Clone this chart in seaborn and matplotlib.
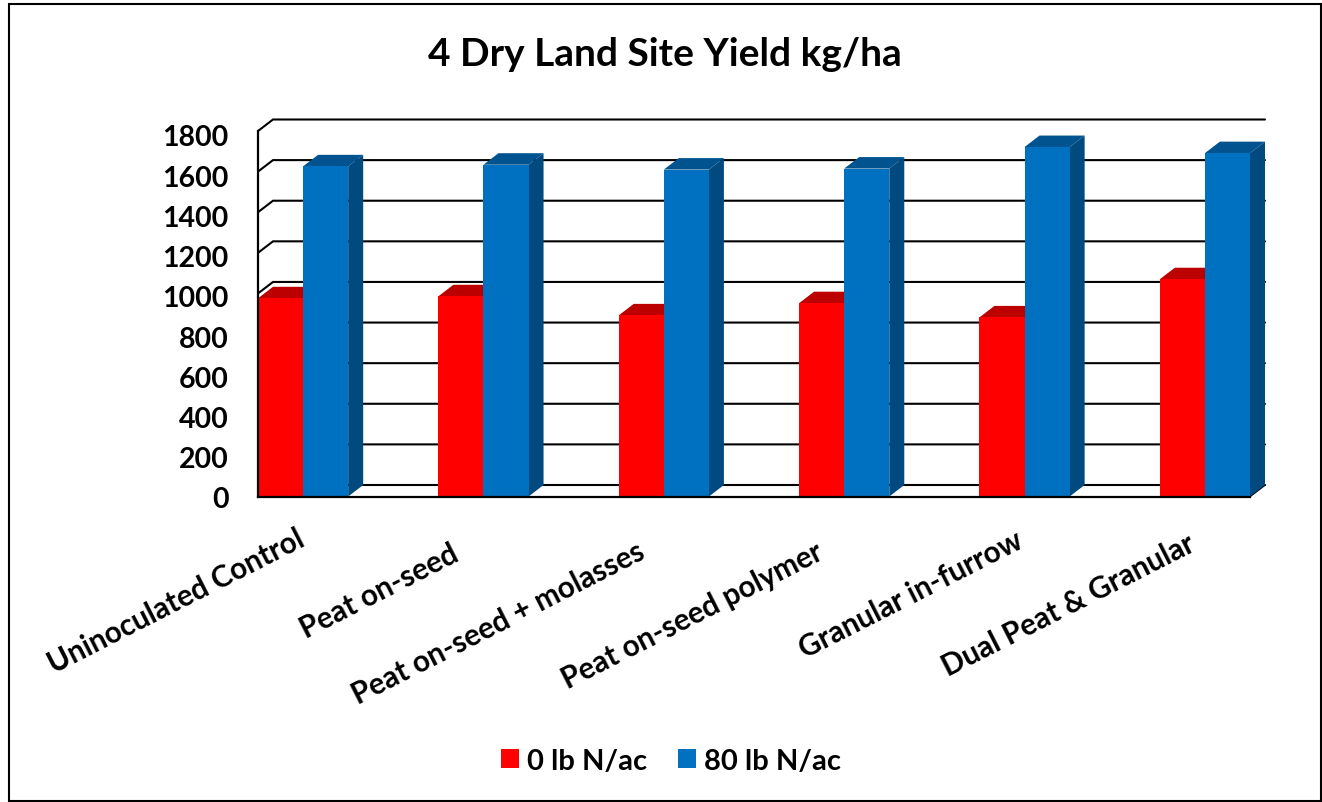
#!/usr/bin/env python3
"""4 Dry Land Site Yield chart, bars with a fake 3D depth."""

import pandas as pd
import matplotlib
matplotlib.use('Agg')
import matplotlib.pyplot as plt
import seaborn as sns
from matplotlib.patches import Patch, Polygon, Rectangle
from matplotlib.transforms import Affine2D

# Chart data
treatments = ['Uninoculated Control', 'Peat on-seed', 'Peat on-seed + molasses',
              'Peat on-seed polymer', 'Granular in-furrow', 'Dual Peat & Granular']
rates = ['0 lb N/ac', '80 lb N/ac']
yield_0n = [976, 986, 892, 952, 882, 1070]
yield_80n = [1626, 1634, 1610, 1615, 1721, 1691]
y_ticks = [0, 200, 400, 600, 800, 1000, 1200, 1400, 1600, 1800]

title = '4 Dry Land Site Yield kg/ha'

# Colours: front, top, side
front_colors = {'0 lb N/ac': '#FF0000', '80 lb N/ac': '#0070C0'}
top_colors = {'#FF0000': '#BC0000', '#0070C0': '#00538F'}
side_colors = {'#FF0000': '#A80000', '#0070C0': '#004A80'}

# Where the end of each slanted label sits relative to its tick, in pixels (right, down)
label_offsets = [(3, 47.5), (-23, 62.5), (-17, 60.5), (-19, 60.5), (0.5, 49.5), (-8, 52.5)]

W, H = 1322, 803
FONT = 'Lato'


def to_hex(color):
    return matplotlib.colors.to_hex(color).upper()


def main():
    sns.set_style('white')
    plt.rcParams['font.family'] = [FONT, 'DejaVu Sans']
    plt.rcParams['font.weight'] = 'bold'

    df = pd.DataFrame({
        'treatment': treatments * 2,
        'rate': [rates[0]] * len(treatments) + [rates[1]] * len(treatments),
        'value': yield_0n + yield_80n,
    })

    fig = plt.figure(figsize=(W / 100, H / 100), dpi=100, facecolor='white')
    left, right, top, bottom = 258, 1250, 132, 497.5
    ax = fig.add_axes([left / W, 1 - bottom / H, (right - left) / W, (bottom - top) / H])

    sns.barplot(data=df, x='treatment', y='value', hue='rate', palette=front_colors,
                width=0.5, saturation=1, legend=False, linewidth=0, ax=ax, zorder=3)

    ax.set_xlim(-0.25, 5.25)
    ax.set_ylim(0, 1800)
    ax.set_yticks(y_ticks)
    ax.set_xlabel('')
    ax.set_ylabel('')

    # Depth of the fake 3D box, in data units
    dx = 15 / ((right - left) / 5.5)
    dy = 11.5 / ((bottom - top) / 1800)

    # Back wall gridlines with the little diagonal on the left
    x0, x1 = ax.get_xlim()
    for tick in y_ticks:
        ax.plot([x0, x0 + dx, x1 + dx], [tick, tick + dy, tick + dy], color='black',
                lw=1.5, clip_on=False, zorder=1, solid_joinstyle='miter')
    ax.plot([x1, x1 + dx], [0, dy], color='black', lw=1.2, clip_on=False, zorder=1)

    # Top and side faces for every bar
    for bar in ax.patches:
        xa, xb, h = bar.get_x(), bar.get_x() + bar.get_width(), bar.get_height()
        color = to_hex(bar.get_facecolor())
        ax.add_patch(Polygon([(xa, h), (xa + dx, h + dy), (xb + dx, h + dy), (xb, h)],
                             facecolor=top_colors[color], edgecolor='none',
                             clip_on=False, zorder=2))
        ax.add_patch(Polygon([(xb, 0), (xb + dx, dy), (xb + dx, h + dy), (xb, h)],
                             facecolor=side_colors[color], edgecolor='none',
                             clip_on=False, zorder=2))

    # Axis lines
    sns.despine(ax=ax, top=True, right=True)
    for side in ['left', 'bottom']:
        ax.spines[side].set_color('black')
        ax.spines[side].set_linewidth(1.6)
        ax.spines[side].set_zorder(5)

    ax.tick_params(axis='y', length=0, pad=21, labelsize=20.5, labelcolor='black')
    ax.tick_params(axis='x', length=0, pad=0, labelsize=21.3, labelcolor='black')

    # Slanted category labels, each nudged to its own spot
    for label, (ox, oy) in zip(ax.get_xticklabels(), label_offsets):
        label.set_rotation(27)
        label.set_ha('right')
        label.set_va('baseline')
        label.set_rotation_mode('anchor')
        label.set_fontweight('bold')
        label.set_transform(label.get_transform() + Affine2D().translate(ox, -oy))

    # Value labels drift under their gridline towards the top of the axis
    labels = ax.get_yticklabels()
    for i, label in enumerate(labels):
        label.set_fontweight('bold')
        shift = 0.5 + 3.5 * i / (len(labels) - 1)
        label.set_transform(label.get_transform() + Affine2D().translate(0, -shift))

    fig.text(665 / W, 1 - 55 / H, title, ha='center', va='center', fontsize=28,
             fontweight='bold', color='black')

    handles = [Patch(facecolor=front_colors[r], edgecolor='none', label=r) for r in rates]
    fig.legend(handles=handles, loc='center', bbox_to_anchor=(671 / W, 1 - 762 / H),
               ncol=2, frameon=False, fontsize=21, handlelength=0.62, handleheight=0.62,
               handletextpad=0.28, columnspacing=1.07, labelspacing=0, labelcolor='black')

    # Chart area border
    fig.add_artist(Rectangle((8.5 / W, 1 - 801.5 / H), 1312.5 / W, 796.5 / H, fill=False,
                             edgecolor='black', linewidth=1.5, transform=fig.transFigure))

    fig.savefig('out.png', dpi=100, facecolor='white')


if __name__ == "__main__":
    main()
